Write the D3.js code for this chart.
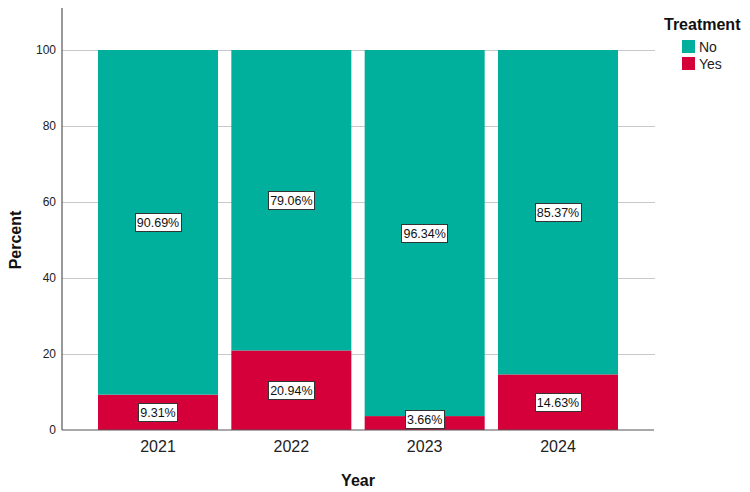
<!DOCTYPE html>
<html><head><meta charset="utf-8">
<script src="https://cdn.jsdelivr.net/npm/d3@7"></script>
<style>body{margin:0;background:#fff}svg{display:block;font-family:Arial,"Liberation Sans",sans-serif}</style>
</head><body><svg id="c" width="750" height="492"></svg>
<script>
const years = ["2021","2022","2023","2024"];
const seriesNames = ["No","Yes"];
const noValues = [90.69, 79.06, 96.34, 85.37];
const yesValues = [9.31, 20.94, 3.66, 14.63];
const yTicks = [0,20,40,60,80,100];
const colors = {No:"#00b09c", Yes:"#d5003a"};

(function(){
const svg = d3.select("#c");
const pLeft = 62, pRight = 654, pTop = 8, pBottom = 430;
const x = d3.scaleBand().domain(years).range([pLeft,pRight]).paddingInner(0.1).paddingOuter(0.27);
const y = d3.scaleLinear().domain([0,111.05]).range([pBottom, pTop]);

svg.append("g").selectAll("line").data(yTicks.filter(d=>d>0)).join("line")
  .attr("x1",pLeft).attr("x2",pRight+1).attr("y1",d=>Math.round(y(d))+0.5).attr("y2",d=>Math.round(y(d))+0.5)
  .attr("stroke","#c8c8c8").attr("stroke-width",1);

const rows = years.map((yr,i)=>({year:yr, Yes:yesValues[i], No:noValues[i]}));
const stack = d3.stack().keys(["Yes","No"])(rows);

svg.append("g").selectAll("g").data(stack).join("g").attr("fill",d=>colors[d.key])
  .selectAll("rect").data(d=>d).join("rect")
  .attr("x",d=>x(d.data.year)).attr("width",x.bandwidth())
  .attr("y",d=>y(d[1])).attr("height",d=>y(d[0])-y(d[1]));

const lab = svg.append("g");
stack.forEach(s=>{
  s.forEach(d=>{
    const v = d[1]-d[0];
    const cx = x(d.data.year)+x.bandwidth()/2;
    const cy = Math.min(y((d[0]+d[1])/2), pBottom-11);
    const g = lab.append("g");
    const t = g.append("text").attr("x",cx).attr("y",cy+0.5).attr("text-anchor","middle")
      .attr("dominant-baseline","central").attr("font-size",12.5).attr("fill","#111")
      .text(v.toFixed(2)+"%");
    const bb = t.node().getBBox();
    g.insert("rect","text").attr("x",Math.round(bb.x-2)+0.5).attr("y",Math.round(cy-9)+0.5).attr("width",Math.round(bb.width+4)).attr("height",18)
      .attr("fill","#fff").attr("stroke","#333").attr("stroke-width",1);
  });
});

svg.append("line").attr("x1",pLeft).attr("x2",pLeft).attr("y1",pTop).attr("y2",pBottom).attr("stroke","#555").attr("stroke-width",1.2);
svg.append("line").attr("x1",pLeft).attr("x2",pRight).attr("y1",pBottom).attr("y2",pBottom).attr("stroke","#555").attr("stroke-width",1.2);

svg.append("g").selectAll("text").data(yTicks).join("text")
  .attr("x",56).attr("y",d=>y(d)).attr("text-anchor","end").attr("dominant-baseline","central")
  .attr("font-size",12).attr("fill","#222").text(d=>d);

svg.append("g").selectAll("text").data(years).join("text")
  .attr("x",d=>x(d)+x.bandwidth()/2).attr("y",446).attr("text-anchor","middle").attr("dominant-baseline","central")
  .attr("font-size",16).attr("fill","#222").text(d=>d);

svg.append("text").attr("x",358).attr("y",480).attr("text-anchor","middle").attr("dominant-baseline","central")
  .attr("font-size",16).attr("font-weight","bold").attr("fill","#111").text("Year");
svg.append("text").attr("transform","translate(15,240) rotate(-90)").attr("text-anchor","middle").attr("dominant-baseline","central")
  .attr("font-size",16).attr("font-weight","bold").attr("fill","#111").text("Percent");

svg.append("text").attr("x",664).attr("y",24).attr("dominant-baseline","central")
  .attr("font-size",16).attr("font-weight","bold").attr("fill","#111").text("Treatment");
const lg = svg.append("g").selectAll("g").data(seriesNames).join("g")
  .attr("transform",(d,i)=>`translate(682,${40+i*17})`);
lg.append("rect").attr("width",13).attr("height",13).attr("fill",d=>colors[d]);
lg.append("text").attr("x",17).attr("y",7).attr("dominant-baseline","central").attr("font-size",14).attr("fill","#222").text(d=>d);
})();
</script></body></html>
